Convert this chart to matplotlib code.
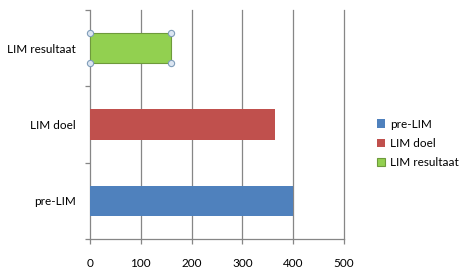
import matplotlib
matplotlib.use("Agg")
import matplotlib.pyplot as plt

categories = ["pre-LIM", "LIM doel", "LIM resultaat"]
values = [400, 365, 160]
colors = ["#4F81BD", "#C0504D", "#92D050"]
x_ticks = [0, 100, 200, 300, 400, 500]

plt.rcParams['font.family'] = ['Lato', 'DejaVu Sans']

fig = plt.figure(figsize=(4.6, 2.71), dpi=100)
ax = fig.add_axes([90 / 460, 1 - 239 / 271, 254 / 460, 229 / 271])

grid_color = "#868686"
ypos = list(range(len(categories)))
bars = []
for y, v, c, name in zip(ypos, values, colors, categories):
    b = ax.barh(y, v, height=0.4, color=c, label=name, zorder=3)
    bars.append(b)

# the green bar looks selected in the original (outline + handles)
sel = bars[2][0]
sel.set_edgecolor("#6E9A3C")
sel.set_linewidth(0.8)
x0, y0 = sel.get_x(), sel.get_y()
x1, y1 = x0 + sel.get_width(), y0 + sel.get_height()
ax.plot([x0, x1, x0, x1], [y0, y0, y1, y1], "o", ms=4.5,
        mfc="#DCE6F2", mec="#7F9DB9", mew=0.8, zorder=5, clip_on=False)

ax.set_xlim(0, 500)
ax.set_ylim(-0.5, 2.5)
ax.set_xticks(x_ticks)
ax.set_yticks(ypos)
ax.set_yticklabels(categories)
ax.set_yticks([-0.5, 0.5, 1.5, 2.5], minor=True)

for x in x_ticks[1:]:
    ax.axvline(x, color=grid_color, lw=0.9, zorder=1, clip_on=False)

for s in ["top", "right"]:
    ax.spines[s].set_visible(False)
for s in ["left", "bottom"]:
    ax.spines[s].set_color(grid_color)
    ax.spines[s].set_linewidth(0.9)

ax.tick_params(axis="y", which="major", length=0, pad=10, labelsize=8.5)
ax.tick_params(axis="y", which="minor", length=3.5, color=grid_color, width=0.9)
ax.tick_params(axis="x", length=3.5, color=grid_color, width=0.9, pad=10, labelsize=8.5)

fig.legend(loc="upper left", bbox_to_anchor=(372 / 460, 1 - 114 / 271),
           frameon=False, fontsize=8.5, handlelength=0.7, handleheight=0.7,
           handletextpad=0.4, labelspacing=0.7, borderaxespad=0)

fig.savefig("out.png", dpi=100)
